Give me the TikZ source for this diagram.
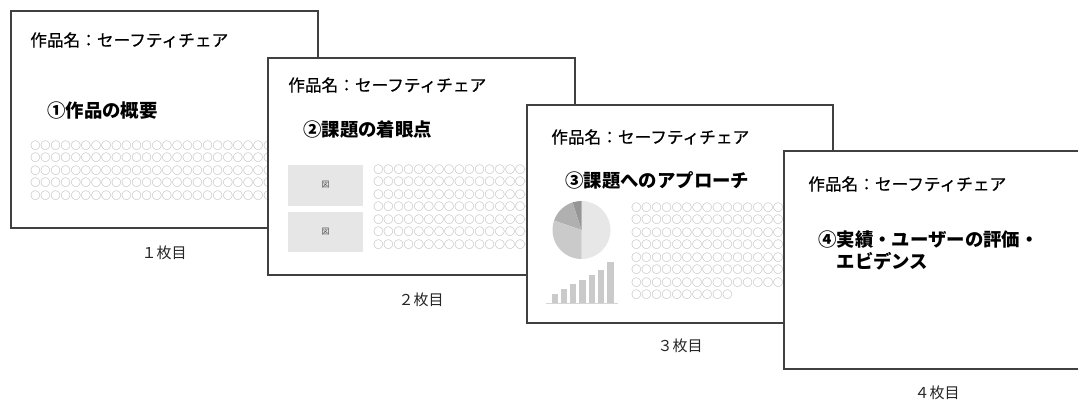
\documentclass[tikz,border=0pt]{standalone}
\usepackage{fontspec}
\setmainfont{Noto Sans CJK JP}
\newfontfamily\titlefont{Noto Sans CJK JP}[FakeBold=0.5]
\usepackage{tikz}
\usetikzlibrary{calc}
\definecolor{frame_gray}{RGB}{64,64,64}
\definecolor{dots_gray}{RGB}{160,160,166}
\definecolor{box_gray}{RGB}{230,230,230}
\definecolor{pie_light}{RGB}{231,231,231}
\definecolor{pie_mid}{RGB}{202,202,202}
\definecolor{pie_dark}{RGB}{176,176,176}
\definecolor{pie_darkest}{RGB}{150,150,150}
\definecolor{bar_gray}{RGB}{202,202,202}
\newcommand{\circlerow}{○○○○○○○○○○○○○○○○○○}

\begin{document}
\begin{tikzpicture}[x=0.75pt,y=-0.75pt,
    slide/.style={draw=frame_gray,fill=white,line width=1pt},
    title/.style={anchor=west,inner sep=0pt,font=\titlefont\fontsize{12.5}{15}\selectfont},
    heading/.style={anchor=west,inner sep=0pt,align=left,font=\fontsize{13.8}{16.3}\selectfont\bfseries},
    dots/.style={anchor=west,inner sep=0pt,text height=5.4pt,text depth=0.8pt,text=dots_gray,font=\fontsize{7.6}{9}\selectfont},
    figbox/.style={fill=box_gray,minimum width=55.8pt,minimum height=30.5pt,inner sep=0pt,text height=4.5pt,text depth=0.5pt,text=black!70,font=\fontsize{6}{7}\selectfont},
    pagelabel/.style={inner sep=0pt,text=black!85,font=\fontsize{11.25}{13}\selectfont}]

    \clip (0,0) rectangle (1078,402);
    \fill[white] (0,0) rectangle (1078,402);

    \filldraw[slide] (11,11) rectangle (318,228);
    \node[title] (title1) at (30,40) {作品名：セーフティチェア};
    \node[heading] (head1) at (47,111) {①作品の概要};
    \foreach \r in {0,...,4}
        \node[dots] (dots1\r) at (30,{146+12.5*\r}) {\circlerow\circlerow};
    \node[pagelabel] (lab1) at (164,252.5) {１枚目};

    \filldraw[slide] (268,58) rectangle (575,275);
    \node[title] (title2) at (288,85) {作品名：セーフティチェア};
    \node[heading] (head2) at (303,130) {②課題の着眼点};
    \node[figbox] (fig1) at (325.5,185.3) {図};
    \node[figbox] (fig2) at (325.5,232) {図};
    \foreach \r in {0,...,6}
        \node[dots] (dots2\r) at (373,{170+12.5*\r}) {\circlerow};
    \node[pagelabel] (lab2) at (421,300) {２枚目};

    \filldraw[slide] (527,105) rectangle (833,323);
    \node[title] (title3) at (551,137) {作品名：セーフティチェア};
    \node[heading] (head3) at (565,180) {③課題へのアプローチ};
    \coordinate (pie) at (581.5,230);
    \fill[pie_light] (pie) -- ++(-90:29) arc[start angle=-90,end angle=90,radius=29] -- cycle;
    \fill[pie_darkest] (pie) -- ++(-90:29) arc[start angle=-90,end angle=-108,radius=29] -- cycle;
    \fill[pie_dark] (pie) -- ++(-108:29) arc[start angle=-108,end angle=-161,radius=29] -- cycle;
    \fill[pie_mid] (pie) -- ++(-161:29) arc[start angle=-161,end angle=-270,radius=29] -- cycle;
    \foreach \i/\h in {0/9.3,1/14.3,2/19,3/22.7,4/27.7,5/33.3,6/40.7}
        \fill[bar_gray] ({551.5+9.3*\i},303) rectangle ++(6.3,-\h);
    \draw[bar_gray!80,line width=1.2pt] (546,303.5) -- (618,303.5);
    \foreach \r in {0,...,6}
        \node[dots] (dots3\r) at (631,{208+12.5*\r}) {\circlerow};
    \node[dots] (dots37) at (631,295.5) {○○○○○○○○○○};
    \node[pagelabel] (lab3) at (680,346) {３枚目};

    \filldraw[slide] (784,151) rectangle (1091,369);
    \node[title] (title4) at (808,184) {作品名：セーフティチェア};
    \node[heading] (head4) at (818,250.8) {④実績・ユーザーの評価・\\\hphantom{④}エビデンス};
    \node[pagelabel] (lab4) at (937,393) {４枚目};
\end{tikzpicture}
\end{document}
